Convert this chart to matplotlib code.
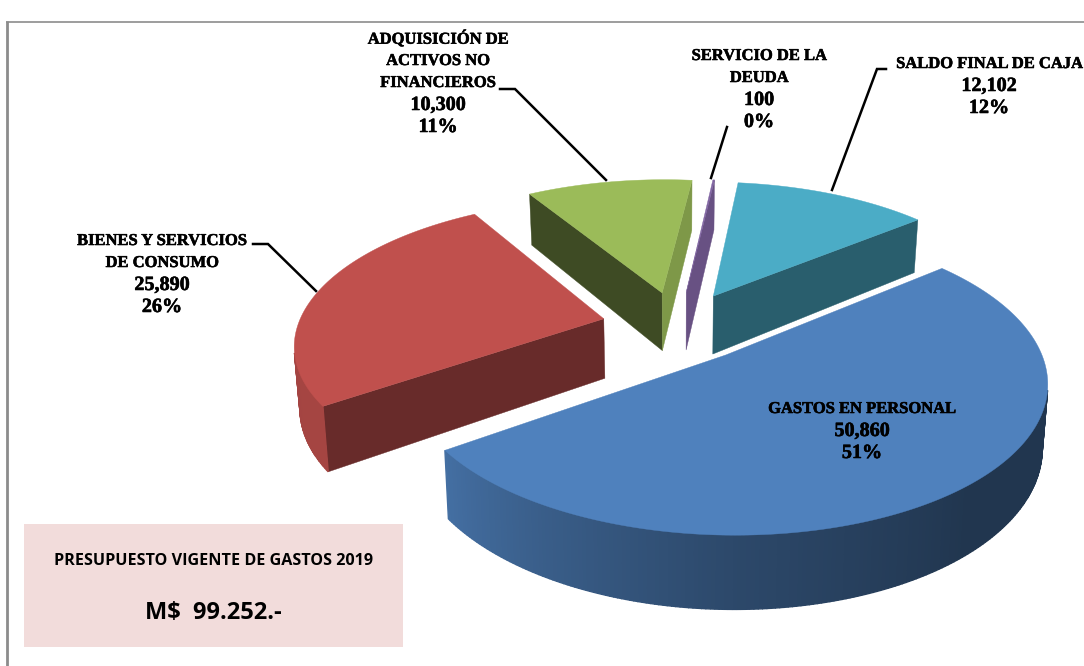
import numpy as np
import matplotlib
matplotlib.use('Agg')
from matplotlib import pyplot as plt
from matplotlib import patheffects as pe
from matplotlib.patches import Polygon, Rectangle
from matplotlib.colors import to_rgb

# datos
nombres = [['GASTOS EN PERSONAL'],
           ['BIENES Y SERVICIOS', 'DE CONSUMO'],
           ['ADQUISICIÓN DE', 'ACTIVOS NO', 'FINANCIEROS'],
           ['SERVICIO DE LA', 'DEUDA'],
           ['SALDO FINAL DE CAJA']]
valores = [50860, 25890, 10300, 100, 12102]
porcentajes = [51, 26, 11, 0, 12]
colores = ['#4f81bd', '#c0504d', '#9bbb59', '#8064a2', '#4bacc6']
titulo_caja = 'PRESUPUESTO VIGENTE DE GASTOS 2019'
total_caja = 'M$  99.252.-'

# camara del pie
X0, Y0 = 678, 326
RX, RY = 306, 141
K = 0.16
PROF = 60
ESCALA_BASE = 0.985
EXPLOSION = 0.25
INICIO = -39.5

def proyecta(u, v, abajo=False):
    w = 1 - K*v
    x = RX*u/w
    y = Y0 + RY*v/w
    if abajo:
        x = x*ESCALA_BASE
        y = y + PROF/w
    return X0 + x, y

def sombra_pared(t):
    t = (t + 60) % 360 - 60
    return np.interp(t, [-60, 50, 90, 120, 145, 240], [.42, .42, .56, .72, .86, .84])

def sombra_corte(n):
    n = n % 360
    return np.interp(n, [0, 50, 150], [.85, .55, .40])

def area(p):
    x = np.array([a[0] for a in p])
    y = np.array([a[1] for a in p])
    return np.sum(x*np.roll(y, -1) - np.roll(x, -1)*y)

def oscurece(color, f):
    return tuple(c*f for c in to_rgb(color))

fig = plt.figure(figsize=(10.84, 6.66), dpi=100)
ax = fig.add_axes([0, 0, 1, 1])
ax.set_xlim(0, 1084)
ax.set_ylim(666, 0)
ax.axis('off')

# marco
ax.plot([7, 7], [666, 21], color='#8c8c8c', lw=2.0, solid_capstyle='butt')
ax.plot([6, 1084], [21.5, 21.5], color='#8c8c8c', lw=1.2, solid_capstyle='butt')

total = sum(valores)
angulos = np.cumsum([0] + valores) / total * 360 + INICIO

# de atras hacia adelante
orden = [2, 3, 4, 1, 0]
for i in orden:
    t0, t1 = angulos[i], angulos[i+1]
    medio = np.radians((t0 + t1) / 2)
    ox, oy = EXPLOSION*np.cos(medio), EXPLOSION*np.sin(medio)
    ts = np.linspace(t0, t1, max(3, int((t1 - t0)*1.5) + 2))
    u = ox + np.cos(np.radians(ts))
    v = oy + np.sin(np.radians(ts))
    arr = [proyecta(a, b) for a, b in zip(u, v)]
    aba = [proyecta(a, b, True) for a, b in zip(u, v)]
    ap = proyecta(ox, oy)
    apb = proyecta(ox, oy, True)
    col = colores[i]

    # caras de corte
    cara0 = [ap, arr[0], aba[0], apb]
    if area(cara0) < 0:
        c = oscurece(col, sombra_corte(t0 - 90))
        ax.add_patch(Polygon(cara0, fc=c, ec=c, lw=0.3))
    cara1 = [arr[-1], ap, apb, aba[-1]]
    if area(cara1) < 0:
        c = oscurece(col, sombra_corte(t1 + 90))
        ax.add_patch(Polygon(cara1, fc=c, ec=c, lw=0.3))

    # pared exterior
    for j in range(len(ts) - 1):
        q = [arr[j], arr[j+1], aba[j+1], aba[j]]
        if area(q) < 0:
            c = oscurece(col, sombra_pared((ts[j] + ts[j+1]) / 2))
            ax.add_patch(Polygon(q, fc=c, ec=c, lw=1.0))

    # cara superior
    ax.add_patch(Polygon([ap] + arr, fc=col, ec=col, lw=0.3))

# lineas guia
guias = [([500, 515, 606], [89, 89, 180]),
         ([727, 711], [127, 178]),
         ([886, 877, 832], [69, 69, 190]),
         ([253, 268, 316], [244, 244, 291])]
for gx, gy in guias:
    ax.plot(gx, gy, color='black', lw=1.8, solid_joinstyle='miter')

# etiquetas
pos_etq = [(862, 409), (162, 241), (438, 39), (759, 56), (989, 64)]
paso = 22
trazo = [pe.withStroke(linewidth=0.4, foreground='black')]
for i in range(5):
    lineas = nombres[i] + [f'{valores[i]:,}', f'{porcentajes[i]}%']
    x, y = pos_etq[i]
    for n, l in enumerate(lineas):
        tam = 11.9 if n < len(nombres[i]) else 14.5
        ax.text(x, y + n*paso, l, ha='center', va='center', color='black',
                family='Liberation Serif', fontweight='bold', fontsize=tam,
                path_effects=trazo)

# caja
ax.add_patch(Rectangle((24, 524), 379, 123, fc='#f2dcdb', ec='none'))
ax.text(213, 561, titulo_caja, ha='center', va='center', family='Open Sans',
        fontweight='bold', fontsize=11.6)
ax.text(213, 613, total_caja, ha='center', va='center', family='Open Sans',
        fontweight='bold', fontsize=17)

fig.savefig('out.png', dpi=100)
